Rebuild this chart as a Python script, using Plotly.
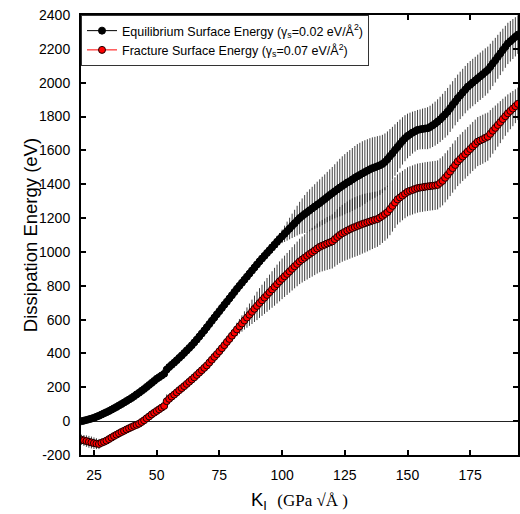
import plotly.graph_objects as go

# Stress intensity factor K_I (GPa*sqrt(A)), one point per unit
k_values = list(range(20, 195))

# Equilibrium surface energy series (eV)
eq_energy = [
    0, 3, 7, 11, 15, 20, 26, 32, 39, 46,
    53, 60, 68, 76, 84, 93, 101, 110, 119, 128,
    137, 147, 158, 168, 179, 190, 202, 214, 226, 238,
    250, 260, 270, 280, 305, 320, 333, 346, 360, 374,
    388, 403, 418, 433, 448, 465, 482, 500, 518, 536,
    555, 574, 593, 612, 631, 650, 669, 688, 706, 725,
    744, 763, 782, 800, 818, 836, 854, 872, 890, 908,
    926, 944, 961, 977, 994, 1010, 1027, 1043, 1060, 1076,
    1092, 1107, 1123, 1138, 1154, 1169, 1185, 1200, 1212, 1224,
    1235, 1246, 1257, 1268, 1279, 1289, 1301, 1312, 1324, 1336,
    1347, 1358, 1369, 1380, 1390, 1400, 1410, 1418, 1428, 1438,
    1447, 1455, 1464, 1472, 1480, 1488, 1495, 1500, 1506, 1512,
    1520, 1532, 1548, 1566, 1583, 1602, 1620, 1638, 1656, 1672,
    1685, 1695, 1705, 1713, 1721, 1724, 1727, 1729, 1731, 1738,
    1748, 1758, 1770, 1783, 1798, 1813, 1829, 1849, 1869, 1888,
    1908, 1925, 1942, 1959, 1976, 1988, 2001, 2013, 2026, 2038,
    2050, 2063, 2075, 2094, 2114, 2133, 2153, 2173, 2193, 2212,
    2232, 2245, 2258, 2271, 2284,
]
eq_error = [
    5, 5, 5, 5, 5, 5, 5, 5, 5, 5,
    5, 5, 5, 5, 5, 5, 5, 5, 5, 5,
    5, 5, 5, 5, 5, 5, 5, 5, 5, 5,
    5, 5, 6, 8, 30, 12, 12, 12, 12, 12,
    12, 13, 13, 14, 14, 15, 15, 16, 16, 17,
    17, 18, 18, 19, 19, 20, 20, 21, 21, 22,
    22, 22, 23, 23, 24, 24, 25, 25, 26, 26,
    27, 28, 29, 30, 31, 32, 33, 34, 35, 36,
    40, 48, 56, 64, 72, 80, 88, 96, 104, 112,
    120, 124, 128, 132, 136, 140, 143, 146, 149, 152,
    155, 160, 165, 170, 175, 178, 181, 184, 186, 188,
    190, 190, 190, 188, 186, 184, 182, 180, 178, 175,
    172, 168, 164, 160, 156, 152, 148, 144, 140, 136,
    132, 128, 124, 120, 118, 118, 120, 122, 124, 126,
    128, 130, 132, 134, 136, 138, 140, 140, 140, 140,
    140, 140, 140, 140, 140, 140, 140, 140, 140, 140,
    140, 140, 138, 136, 134, 132, 130, 128, 126, 124,
    122, 120, 118, 116, 114,
]

# Fracture surface energy series (eV)
fr_energy = [
    -110, -114, -118, -122, -126, -130, -133, -135, -128, -122,
    -115, -106, -97, -88, -80, -72, -64, -57, -49, -42,
    -35, -28, -22, -15, -5, 5, 17, 28, 40, 50,
    60, 70, 80, 90, 118, 132, 145, 157, 170, 183,
    195, 207, 220, 233, 246, 259, 273, 287, 301, 315,
    329, 346, 363, 380, 396, 413, 431, 449, 468, 486,
    505, 523, 542, 560, 577, 595, 612, 629, 646, 664,
    681, 698, 714, 730, 746, 762, 778, 794, 810, 826,
    841, 856, 870, 885, 900, 915, 929, 944, 955, 966,
    977, 988, 998, 1009, 1020, 1030, 1037, 1043, 1050, 1056,
    1062, 1075, 1088, 1100, 1110, 1118, 1126, 1134, 1141, 1147,
    1153, 1159, 1165, 1170, 1175, 1180, 1185, 1190, 1194, 1203,
    1213, 1224, 1235, 1253, 1272, 1291, 1310, 1322, 1333, 1344,
    1355, 1361, 1366, 1372, 1377, 1380, 1382, 1385, 1387, 1389,
    1391, 1393, 1396, 1408, 1420, 1438, 1455, 1475, 1495, 1514,
    1534, 1549, 1564, 1578, 1593, 1608, 1623, 1637, 1652, 1659,
    1666, 1674, 1681, 1698, 1716, 1733, 1750, 1767, 1785, 1802,
    1819, 1833, 1847, 1861, 1875,
]
fr_error = [
    30, 32, 34, 35, 35, 34, 32, 30, 25, 20,
    15, 12, 10, 10, 10, 10, 10, 10, 10, 10,
    10, 10, 10, 10, 10, 10, 10, 10, 10, 10,
    10, 10, 12, 15, 40, 18, 18, 18, 18, 18,
    18, 18, 19, 19, 20, 20, 21, 21, 22, 22,
    23, 23, 24, 25, 26, 27, 28, 29, 30, 32,
    34, 36, 40, 44, 48, 54, 60, 66, 72, 78,
    84, 88, 92, 96, 100, 104, 108, 112, 115, 118,
    120, 122, 124, 126, 128, 130, 132, 134, 136, 138,
    140, 142, 144, 146, 148, 150, 152, 154, 156, 158,
    160, 162, 164, 166, 168, 170, 172, 174, 175, 176,
    176, 176, 175, 174, 172, 170, 168, 166, 164, 162,
    160, 158, 156, 154, 152, 150, 148, 147, 146, 145,
    145, 145, 145, 145, 145, 145, 145, 145, 145, 145,
    145, 145, 145, 145, 145, 145, 145, 145, 145, 145,
    145, 145, 145, 145, 145, 145, 145, 145, 145, 145,
    145, 144, 142, 140, 136, 132, 128, 124, 120, 116,
    112, 108, 104, 100, 96,
]

x_ticks = [25, 50, 75, 100, 125, 150, 175]
y_ticks = list(range(-200, 2401, 200))

series_names = [
    "Equilibrium Surface Energy (γ<sub>s</sub>=0.02 eV/Å<sup>2</sup>)",
    "Fracture Surface Energy (γ<sub>s</sub>=0.07 eV/Å<sup>2</sup>)",
]

SANS = "Liberation Sans, Arial, sans-serif"
SERIF = "Liberation Serif"

fig = go.Figure()
fig.add_trace(go.Scatter(
    x=k_values, y=eq_energy, name=series_names[0], mode="lines+markers",
    line=dict(color="black", width=1),
    marker=dict(symbol="circle", size=7, color="black", line=dict(color="black", width=1)),
    error_y=dict(type="data", array=eq_error, visible=True, color="rgba(30,30,30,0.85)",
                 thickness=1, width=0),
))
fig.add_trace(go.Scatter(
    x=k_values, y=fr_energy, name=series_names[1], mode="lines+markers",
    line=dict(color="red", width=1),
    marker=dict(symbol="circle", size=7, color="#ff0000", line=dict(color="#1a0000", width=1)),
    error_y=dict(type="data", array=fr_error, visible=True, color="rgba(30,30,30,0.85)",
                 thickness=1, width=0),
))

L, R, T, B = 81, 0, 15, 59
W, H = 520, 514
plot_w = W - L - R
plot_h = H - T - B

fig.update_layout(
    width=W, height=H,
    margin=dict(l=L, r=R, t=T, b=B, pad=0),
    paper_bgcolor="white", plot_bgcolor="white",
    font=dict(family=SANS, size=14, color="black"),
    showlegend=True,
    legend=dict(
        x=0, y=1, xanchor="left", yanchor="top",
        bgcolor="white", bordercolor="#333", borderwidth=1,
        font=dict(family=SANS, size=12.5, color="black"),
        itemwidth=30, tracegroupgap=0,
    ),
)
fig.update_xaxes(
    range=[25 - 13 / 2.52, 25 + 426 / 2.52],
    tickmode="array", tickvals=x_ticks, ticktext=[str(v) for v in x_ticks],
    ticks="inside", ticklen=5, tickwidth=1.5, tickcolor="black",
    showline=True, linewidth=2, linecolor="black", mirror="ticks",
    showgrid=False, zeroline=False,
    tickfont=dict(family=SANS, size=14, color="black"),
    ticklabelstandoff=6,
)
fig.update_yaxes(
    range=[-200, 2400],
    tickmode="array", tickvals=y_ticks, ticktext=[str(v) for v in y_ticks],
    ticks="inside", ticklen=5, tickwidth=1.5, tickcolor="black",
    showline=True, linewidth=2, linecolor="black", mirror="ticks",
    showgrid=False, zeroline=True, zerolinecolor="#222", zerolinewidth=1,
    tickfont=dict(family=SANS, size=14, color="black"),
    ticklabelstandoff=6,
)

fig.add_annotation(
    xref="paper", yref="paper",
    x=(30 - L) / plot_w, y=0.5, xanchor="center", yanchor="middle",
    text="Dissipation Energy (eV)", textangle=-90, showarrow=False,
    font=dict(family=SANS, size=18.5, color="black"),
)
fig.add_annotation(
    xref="paper", yref="paper",
    x=0.5, y=-(501 - (T + plot_h)) / plot_h, xanchor="center", yanchor="middle",
    text="K<sub>I</sub>  <span style='font-family:" + SERIF + ";font-size:17px'>(GPa √Å )</span>",
    showarrow=False,
    font=dict(family=SANS, size=18.5, color="black"),
)

fig.write_html("out.html")
